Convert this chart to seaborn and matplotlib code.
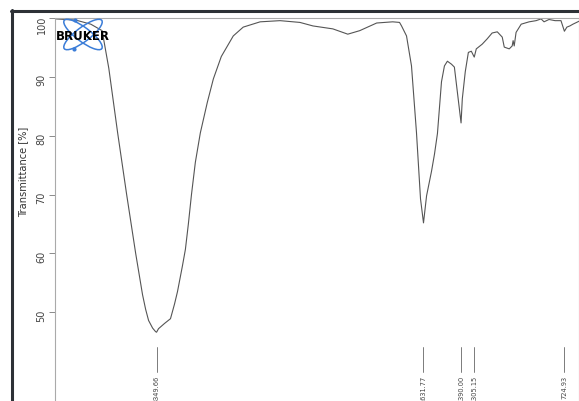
import pandas as pd
import seaborn as sns
import matplotlib.pyplot as plt
from matplotlib.patches import Ellipse
from matplotlib.lines import Line2D

# IR spectrum: wavenumber [cm-1] and transmittance [%]
wavenumber = [4000, 3870, 3773, 3700, 3657, 3600, 3542, 3484, 3440, 3420,
              3401, 3375, 3356, 3349.66, 3337, 3298, 3260, 3234, 3215, 3183, 3164,
              3145, 3125, 3100, 3068, 3023, 2984, 2933, 2856, 2792, 2683,
              2555, 2427, 2343, 2215, 2119, 2042, 1933, 1830, 1786, 1773,
              1741, 1709, 1677, 1651, 1631.77, 1612, 1580, 1561, 1542, 1516,
              1497, 1478, 1452, 1433, 1414, 1390, 1382, 1363, 1343, 1324,
              1305.15, 1292, 1254, 1222, 1190, 1157, 1125, 1112, 1080, 1061,
              1055, 1048, 1036, 1003, 952, 907, 875, 856, 824, 785,
              747, 724.93, 709, 690, 670, 631]
transmittance = [99.9, 99.7, 99.0, 97.9, 91.5, 80.5, 70.0, 60.0, 53.0, 50.5,
                 48.6, 47.3, 46.7, 46.6, 47.2, 48.1, 48.9, 51.4, 53.5, 57.9, 60.7,
                 65.0, 70.0, 75.5, 80.5, 85.7, 89.7, 93.5, 97.0, 98.5, 99.4,
                 99.6, 99.3, 98.7, 98.2, 97.3, 97.9, 99.2, 99.4, 99.3, 98.7,
                 97.0, 91.9, 80.6, 69.3, 65.2, 69.8, 74.0, 76.9, 80.4, 89.2,
                 91.9, 92.7, 92.2, 91.7, 87.5, 82.2, 86.3, 90.9, 94.2, 94.4,
                 93.4, 94.8, 95.6, 96.5, 97.5, 97.7, 96.8, 95.1, 94.8, 95.3,
                 96.2, 95.3, 97.6, 99.0, 99.4, 99.6, 99.9, 99.4, 99.8, 99.6,
                 99.6, 97.8, 98.5, 98.7, 99.0, 99.5]

peak_positions = [3349.66, 1631.77, 1390.00, 1305.15, 724.93]
peak_labels = ["3349.66", "1631.77", "1390.00", "1305.15", "724.93"]
y_ticks = [50, 60, 70, 80, 90, 100]

spectrum = pd.DataFrame({"wn": wavenumber, "T": transmittance})

sns.set_style("white")
fig = plt.figure(figsize=(5.79, 4.02), dpi=100)
ax = fig.add_axes([55.5 / 579, 0, 1 - 55.5 / 579, (402 - 19.3) / 402])

sns.lineplot(data=spectrum, x="wn", y="T", ax=ax, color="#555555",
             linewidth=0.8, estimator=None, sort=False)

ax.set_xlim(4000, 631)
ax.set_ylim(34.9, 100)
ax.set_yticks(y_ticks)
ax.set_yticklabels([str(t) for t in y_ticks])
ax.tick_params(axis="y", direction="out", length=4.5, width=0.6, color="#777777",
               labelsize=7, labelcolor="#444444", labelrotation=90, pad=2, left=True)
ax.set_xticks([])
ax.set_xlabel("")
ax.set_ylabel("Transmittance [%]", fontsize=7.1, color="#333333")
ax.yaxis.set_label_coords(-0.0525, 0.602)

for side in ["left", "top", "right"]:
    ax.spines[side].set_color("#aaaaaa")
    ax.spines[side].set_linewidth(0.8)
ax.spines["bottom"].set_visible(False)

# peak markers and labels
for pos, lab in zip(peak_positions, peak_labels):
    ax.plot([pos, pos], [39.85, 44.1], color="#666666", linewidth=0.6)
    ax.text(pos, 39.4, lab, rotation=90, ha="center", va="top",
            fontsize=4.8, color="#444444")

# dark window frame
fig.add_artist(Line2D([12 / 579, 12 / 579], [0, (402 - 11) / 402],
                      transform=fig.transFigure, color="#2d3136", linewidth=2.2))
fig.add_artist(Line2D([11 / 579, 1], [(402 - 12) / 402, (402 - 12) / 402],
                      transform=fig.transFigure, color="#2d3136", linewidth=2.2))

# Bruker logo
logo = fig.add_axes([55 / 579, (402 - 56) / 402, 60 / 579, 41 / 402])
logo.set_xlim(0, 60)
logo.set_ylim(0, 41)
logo.axis("off")
for angle in [-37, 37]:
    logo.add_patch(Ellipse((28, 20.5), 47, 14, angle=angle, fill=False,
                           edgecolor="#3b7dd8", linewidth=1.1))
logo.plot([20, 19], [35, 6], "o", color="#3b7dd8", markersize=2)
logo.text(28, 20.0, "BRUKER", ha="center", va="center", fontsize=8.5,
          fontweight="bold", color="black")

fig.savefig("out.png", dpi=100)
